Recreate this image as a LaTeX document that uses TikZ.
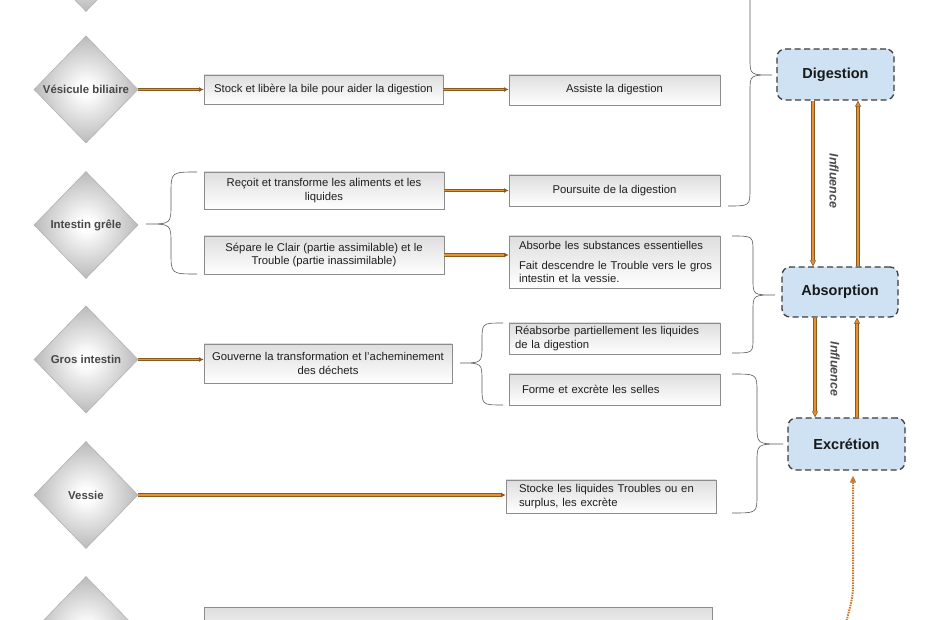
\documentclass[tikz,border=0pt]{standalone}
\usepackage{fontspec}
\setmainfont{Liberation Sans}
\usetikzlibrary{shapes.geometric,arrows.meta,calc}
\definecolor{arrbrown}{HTML}{8A5A1E}
\definecolor{arrorange}{HTML}{E69138}
\definecolor{bluefill}{HTML}{CFE2F3}
\definecolor{blueborder}{HTML}{3C3C3C}
\pgfdeclareradialshading{diashade}{\pgfpoint{0bp}{0bp}}{color(0bp)=(white); color(3bp)=(white); color(25bp)=(black!27); color(50bp)=(black!27)}
\newcommand{\oneline}[1]{\mbox{#1}}
\begin{document}
\begin{tikzpicture}[x=1pt,y=-1pt,
  dia/.style={diamond, shade, shading=diashade, draw=black!30, line width=0.6pt,
    minimum width=104pt, minimum height=107pt, inner sep=0pt,
    font=\fontsize{11.4}{13}\selectfont\bfseries, text=black!72},
  box/.style={rectangle, draw=black!45, line width=0.8pt, top color=black!13, bottom color=white,
    inner xsep=6pt, inner ysep=0pt, font=\fontsize{11.3}{13.3}\selectfont, text=black!88, align=center},
  lbox/.style={box, align=left},
  bluebox/.style={rectangle, rounded corners=8pt, fill=bluefill, draw=blueborder, line width=1.3pt,
    dash pattern=on 6pt off 3.5pt, font=\fontsize{14.5}{16}\selectfont\bfseries, text=black!90},
  harrow/.style={draw=arrbrown, double=arrorange, line width=0.9pt, double distance=1.3pt,
    -{Latex[length=4.5pt,width=5pt]}},
  varrow/.style={draw=arrbrown, double=arrorange, line width=0.6pt, double distance=2.6pt,
    -{Triangle[length=6pt,width=6pt,fill=arrorange]}},
  dotarrow/.style={draw=arrorange!85!black, line width=2pt, dash pattern=on 1.5pt off 1pt,
    -{Triangle[length=7pt,width=6pt,fill=arrorange]}, shorten >=5pt},
  infl/.style={rotate=-90, font=\fontsize{12.5}{14}\selectfont\bfseries\itshape, text=black!70},
  bracepath/.style={draw=black!65, line width=0.6pt}
]
\useasboundingbox (0,0) rectangle (930,620);
\fill[white] (0,0) rectangle (930,620);
\clip (0,0) rectangle (930,620);

% diamonds
\node[dia] (topdia) at (86,-42) {};
\node[dia] (vesicule) at (86,89.5) {Vésicule biliaire};
\node[dia] (grele) at (86,225) {Intestin grêle};
\node[dia] (gros) at (86,359.5) {Gros intestin};
\node[dia] (vessie) at (86,495) {Vessie};
\node[dia] (bottomdia) at (86,630) {};

% boxes (centred text)
\node[box, minimum width=239pt, minimum height=29pt] (stock) at (323.5,89.5) {Stock et libère la bile pour aider la digestion};
\node[box, minimum width=211pt, minimum height=30pt] (assiste) at (614.5,90) {Assiste la digestion};
\node[box, minimum width=240pt, minimum height=37pt] (recoit) at (324,190.5) {Reçoit et transforme les aliments et les\\liquides};
\node[box, minimum width=211pt, minimum height=31pt] (poursuite) at (614.5,190.5) {Poursuite de la digestion};
\node[box, minimum width=240pt, minimum height=38pt] (separe) at (324,255) {Sépare le Clair (partie assimilable) et le\\Trouble (partie inassimilable)};
\node[box, minimum width=248pt, minimum height=39pt] (gouverne) at (328,363.5) {Gouverne la transformation et l'acheminement\\des déchets};
\node[box, minimum width=508pt, minimum height=40pt] (bottombox) at (458,627) {};

% boxes (left-aligned text)
\node[lbox, minimum width=211pt, minimum height=52pt, text width=191pt, inner xsep=10pt] (absorbe) at (614.5,262) {\oneline{Absorbe les substances essentielles}\\[6pt]\oneline{Fait descendre le Trouble vers le gros}\\\oneline{intestin et la vessie.}};
\node[lbox, minimum width=211pt, minimum height=31pt, text width=199pt] (reabsorbe) at (614.5,338.5) {\oneline{Réabsorbe partiellement les liquides}\\\oneline{de la digestion}};
\node[lbox, minimum width=211pt, minimum height=31pt, text width=185pt, inner xsep=13pt] (forme) at (614.5,389.5) {\oneline{Forme et excrète les selles}};
\node[lbox, minimum width=210pt, minimum height=33pt, text width=184pt, inner xsep=13pt] (stocke) at (611,496.5) {\oneline{Stocke les liquides Troubles ou en}\\\oneline{surplus, les excrète}};

% blue boxes
\node[bluebox, minimum width=117pt, minimum height=51pt] (dig) at (835.5,74.5) {Digestion};
\node[bluebox, minimum width=116pt, minimum height=50pt] (abs) at (840,292) {Absorption};
\node[bluebox, minimum width=117pt, minimum height=52pt] (exc) at (846.5,444) {Excrétion};

% horizontal arrows
\draw[harrow] (vesicule.east) -- (vesicule.east -| stock.west);
\draw[harrow] (stock.east) -- (stock.east -| assiste.west);
\draw[harrow] (recoit.east) -- (recoit.east -| poursuite.west);
\draw[harrow] (separe.east) -- (separe.east -| absorbe.west);
\draw[harrow] (gros.east) -- (gros.east -| gouverne.west);
\draw[harrow] (vessie.east) -- (vessie.east -| stocke.west);

% vertical arrows
\coordinate (xa) at (813,0);
\coordinate (xb) at (858,0);
\coordinate (xc) at (815,0);
\coordinate (xd) at (857,0);
\coordinate (xe) at (853,0);
\draw[varrow] (xa |- dig.south) -- (xa |- abs.north);
\draw[varrow] (xb |- abs.north) -- (xb |- dig.south);
\draw[varrow] (xc |- abs.south) -- (xc |- exc.north);
\draw[varrow] (xd |- exc.north) -- (xd |- abs.south);
\node[infl] (infl1) at (834,181) {Influence};
\node[infl] (infl2) at (835,369) {Influence};

% dotted arrow
\coordinate (dotstart) at (845,628);
\draw[dotarrow] (dotstart) .. controls (850,605) and (853,600) .. (853,585) -- (xe |- exc.south);

% braces
\draw[bracepath] (197,172) .. controls (171,172) .. (171,194) -- (171,204) .. controls (171,224) .. (146,224) .. controls (171,224) .. (171,244) -- (171,252) .. controls (171,274) .. (197,274);
\draw[bracepath] (503,323) .. controls (482,323) .. (482,341) -- (482,345) .. controls (482,363) .. (460,363) .. controls (482,363) .. (482,381) -- (482,387) .. controls (482,405) .. (503,405);
\draw[bracepath] (728,-60) .. controls (750,-60) .. (750,-40) -- (750,58) .. controls (750,75) .. (772,75) .. controls (750,75) .. (750,92) -- (750,188) .. controls (750,206) .. (728,206);
\draw[bracepath] (732,236) .. controls (753,236) .. (753,252) -- (753,279) .. controls (753,295) .. (775,295) .. controls (753,295) .. (753,311) -- (753,338) .. controls (753,353) .. (732,353);
\draw[bracepath] (732,374) .. controls (757,374) .. (757,392) -- (757,426) .. controls (757,444) .. (783,444) .. controls (757,444) .. (757,462) -- (757,495) .. controls (757,513) .. (732,513);
\end{tikzpicture}
\end{document}
